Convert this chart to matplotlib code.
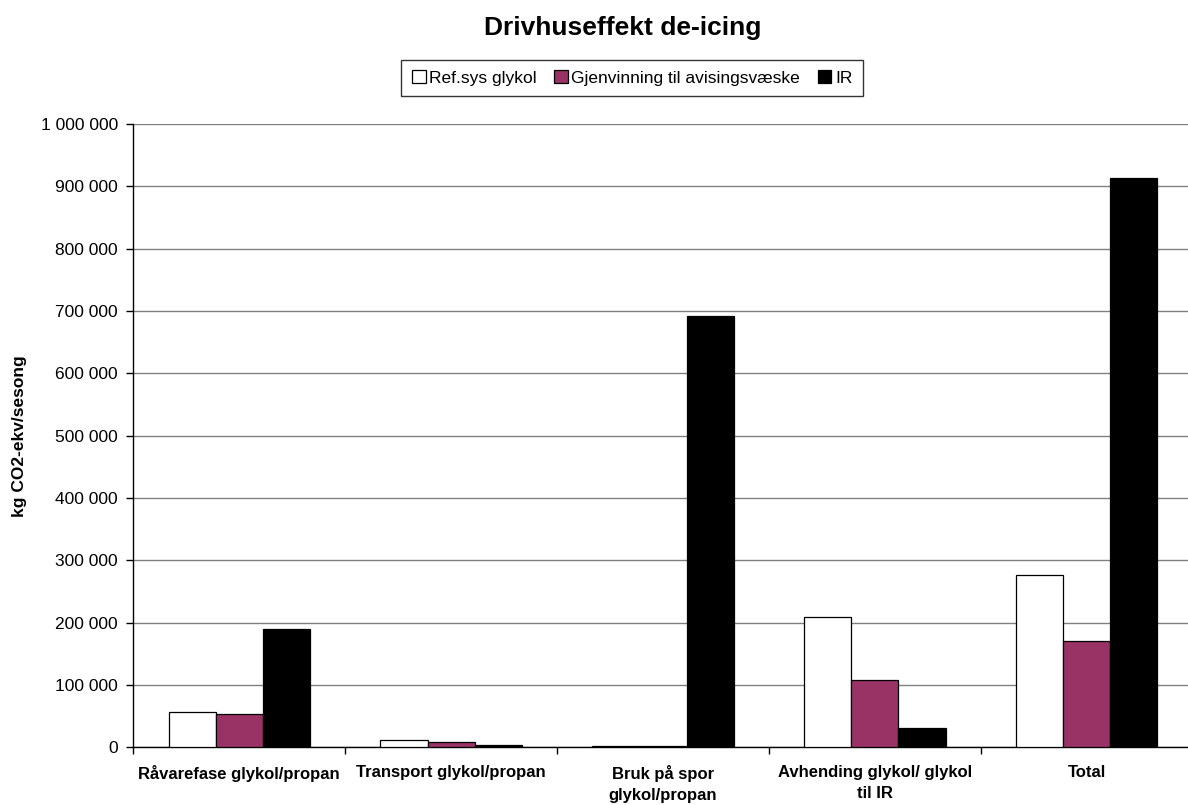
import matplotlib
matplotlib.use("Agg")
import matplotlib.pyplot as plt
from matplotlib.patches import Patch
from matplotlib.ticker import FuncFormatter, FixedLocator
import numpy as np

categories = [
    "Råvarefase glykol/propan",
    "Transport glykol/propan",
    "Bruk på spor\nglykol/propan",
    "Avhending glykol/ glykol\ntil IR",
    "Total",
]
series_names = ["Ref.sys glykol", "Gjenvinning til avisingsvæske", "IR"]
ref_sys = [56000, 11500, 1500, 208500, 277000]
gjenvinning = [53000, 8500, 1500, 107500, 171000]
ir = [189000, 3000, 692000, 30500, 913000]
series_values = [ref_sys, gjenvinning, ir]
series_colors = ["#FFFFFF", "#993366", "#000000"]

plt.rcParams["font.family"] = ["Liberation Sans", "DejaVu Sans"]

W, H = 1188, 805
fig = plt.figure(figsize=(W / 100, H / 100), dpi=100)
# plot area in pixel coordinates
left_px, right_px, top_px, bottom_px = 133.3, 1192.7, 124.0, 747.3
ax = fig.add_axes([left_px / W, 1 - bottom_px / H,
                   (right_px - left_px) / W, (bottom_px - top_px) / H])

n = len(categories)
x = np.arange(n)
bar_w = 1 / 4.5  # Excel-style gap width of 150 %
for i, (vals, col) in enumerate(zip(series_values, series_colors)):
    ax.bar(x + (i - 1) * bar_w, vals, width=bar_w, color=col,
           edgecolor="black", linewidth=0.9, zorder=3)

ax.set_xlim(-0.5, n - 0.5)
ax.set_ylim(0, 1_000_000)
ax.set_yticks(np.arange(0, 1_000_001, 100_000))
ax.yaxis.set_major_formatter(
    FuncFormatter(lambda v, p: f"{int(v):,}".replace(",", " ")))
ax.grid(axis="y", color="#808080", linewidth=1.0, zorder=0)
ax.set_axisbelow(True)

# category boundaries as ticks, labels at group centres
ax.xaxis.set_major_locator(FixedLocator(np.arange(-0.5, n, 1.0)))
ax.xaxis.set_major_formatter(FuncFormatter(lambda v, p: ""))
ax.xaxis.set_minor_locator(FixedLocator(x))
ax.set_xticklabels(categories, minor=True, fontweight="bold",
                   fontsize=12, linespacing=1.5)
ax.tick_params(axis="x", which="minor", length=0, pad=13)
ax.tick_params(axis="x", which="major", length=5, width=1, color="black",
               direction="out")
ax.tick_params(axis="y", length=5, width=1, color="black", direction="out",
               labelsize=12.5, pad=6)

for s in ["top", "right"]:
    ax.spines[s].set_visible(False)
for s in ["left", "bottom"]:
    ax.spines[s].set_color("black")
    ax.spines[s].set_linewidth(1.0)

ax.set_ylabel("kg CO2-ekv/sesong", fontsize=12.5, fontweight="bold")
ax.yaxis.set_label_coords((27 - left_px) / (right_px - left_px), 0.5)

fig.text(623 / W, 1 - 28 / H, "Drivhuseffekt de-icing", ha="center",
         va="center", fontsize=19, fontweight="bold")

handles = [Patch(facecolor=c, edgecolor="black", linewidth=0.9)
           for c in series_colors]
leg = fig.legend(handles, series_names, loc="center",
                 bbox_to_anchor=(632 / W, 1 - 78 / H), ncol=3,
                 fontsize=12.5, frameon=True, fancybox=False,
                 handlelength=0.8, handleheight=0.8, handletextpad=0.2,
                 columnspacing=1.0, borderpad=0.6, edgecolor="black")
leg.get_frame().set_linewidth(1.0)

fig.savefig("out.png", dpi=100)
